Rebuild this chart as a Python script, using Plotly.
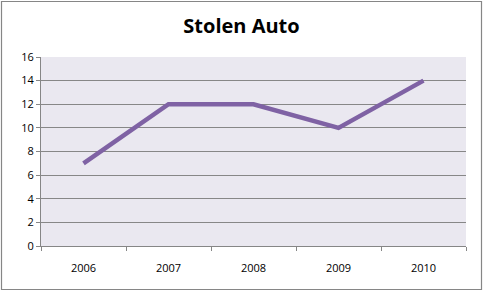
import plotly.graph_objects as go

years = ["2006", "2007", "2008", "2009", "2010"]
stolen = [7, 12, 12, 10, 14]
y_ticks = [0, 2, 4, 6, 8, 10, 12, 14, 16]

W, H = 483, 291
L, R, T, B = 41, 17, 57, 45
pw, ph = W - L - R, H - T - B

fig = go.Figure()
fig.add_trace(go.Scatter(x=years, y=stolen, mode="lines",
                         line=dict(color="#7F62A4", width=4.5)))

def px_x(x):
    return (x - L) / pw

def px_y(y):
    return (H - B - y) / ph

fig.update_layout(
    width=W, height=H,
    margin=dict(l=L, r=R, t=T, b=B),
    paper_bgcolor="white",
    plot_bgcolor="#EAE8F0",
    showlegend=False,
    title=dict(text="<b>Stolen Auto</b>", x=0.5, xanchor="center",
               y=1 - 26 / H, yanchor="middle",
               font=dict(family="Open Sans, Liberation Sans, sans-serif", size=20, color="black")),
    font=dict(family="Open Sans, Liberation Sans, sans-serif", size=11, color="black"),
    xaxis=dict(type="category", range=[-0.5, 4.5], showgrid=False,
               showline=True, linecolor="#868686", linewidth=1,
               ticks="outside", tickson="boundaries", ticklen=4, tickcolor="#868686",
               ticklabelstandoff=12, fixedrange=True),
    yaxis=dict(range=[0, 16], tickvals=y_ticks, showgrid=True, gridcolor="#878787", gridwidth=1,
               showline=True, linecolor="#868686", linewidth=1, zeroline=False,
               ticks="outside", ticklen=4, tickcolor="#868686", fixedrange=True),
    shapes=[dict(type="rect", xref="paper", yref="paper",
                 x0=px_x(1.5), x1=px_x(481.5), y0=px_y(289.5), y1=px_y(1.5),
                 line=dict(color="#868686", width=1.2), layer="below")],
)

fig.write_html("out.html")
